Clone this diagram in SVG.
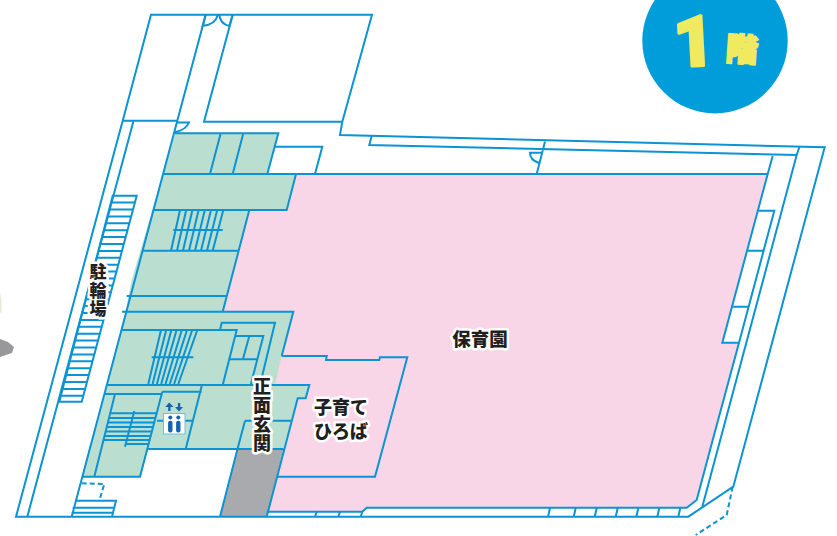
<svg xmlns="http://www.w3.org/2000/svg" width="837" height="536" viewBox="0 0 837 536">
<style>
.l{fill:none;stroke:#0b93d3;stroke-width:2;stroke-linejoin:miter}
.t{font-family:"Noto Sans CJK JP","Noto Sans",sans-serif;font-weight:900;fill:#231f20;stroke:#fff;stroke-width:5;stroke-linejoin:round;paint-order:stroke;text-anchor:middle}
.v{writing-mode:vertical-rl}
.y{fill:#f0ea60;stroke:#f0ea60;stroke-linejoin:round;text-anchor:middle;font-weight:900}
.d{stroke-dasharray:5 3}
</style>
<rect width="837" height="536" fill="#fff"/>
<g id="photo-edge">
<path d="M0 339L8 342L14 347L12 353L0 357Z" fill="#98989a"/>
<path d="M0 293L1.500 300L1.500 312L0 313Z" fill="#ece7d6"/>
</g>
<g id="badge">
<circle cx="715" cy="40.700" r="72.700" fill="#009ddb"/>
<text class="y" x="694" y="66" font-family="Roboto,sans-serif" font-size="70" stroke-width="3" transform="rotate(-3 695 40)">1</text>
<text class="y" x="742" y="61" font-family="Noto Sans CJK JP,sans-serif" font-size="32" stroke-width="2" transform="rotate(4 742 48)">階</text>
</g>
<g id="rooms">
<path d="M296 174H767.700L758.300 210.700L722.300 342.700H739L712.700 440L696.700 500L686.700 507.700H366.700L362.300 511.700H266.700L266.700 516.700L283.300 450L297.700 398.300H305.700L309.300 385H260L293.300 311.700L281.700 356L222.700 311.700L249.300 210H286.700Z" fill="#f9d5e8"/>
<path d="M175 133.300H278.300L267.300 174H296L286.700 210H249.300L238.300 250.700L222.700 311.700H293.300L281.700 356L275 385H309.300L305.700 398.300H297.700L283.300 449H148.300L140 476.700H82.700L122 330L131.700 280Z" fill="#badfd1"/>
<path d="M237.300 449.700H283.300L266.700 516.700H220Z" fill="#a9aaad"/>
<path d="M283.300 355.700H326.700L326 360H379.300L380 357.300H407.300L375 476.700H277.300L297.700 398.300H305.700L309.300 385H275Z" fill="#f9d5e8"/>
</g>
<g id="connectors">
<path class="l" d="M122.700 120.700L151 14.700H372L342.300 121.700L340 135L824.700 147.300L733.300 486.700L688.300 516.700H16L122.700 120.700H177.300L205.700 14.700M133.300 121.700L27.300 516.700M232.700 14.700L204 121.700H342.300"/>
<path class="l" d="M177.300 120.700L71.700 516.700M371.700 136L369.300 145L796.700 155L702.300 506.700M799.300 147.300L796.700 155M545 141.500L536.700 174"/>
<path class="l" d="M205.700 14.700L202.700 25.700Q215 25 218 14.700M232.700 14.700L229.300 26Q220 24 219.300 14.700M176.500 122.500H189Q186 130 174.500 132.300M541.700 152.700H530Q530 160 539 163"/>
<path class="l" d="M296 174H767.700L772.700 156M767.700 174L722.300 342.700H739M758.300 210.700H774.300L739 342.700L712.700 440L696.700 500L686.700 507.700H366.700L362.300 511.700H266.700M747.700 250.700H763.300M732.700 306.700H748.300"/>
<path class="l" d="M175 133.300H278.300L267.300 174M275 146.700H322.300L315 174M220.700 133.300L210 174M243.300 133.300L232.700 174M163.300 174H296L286.700 210H153.300M249.300 210L222.700 311.700M142.700 250.700H238.300M126.700 296H226M122 311.700H293.300L281.700 356"/>
<path class="l" d="M122 330H236.700L222.700 385M220 330L221.700 322.700H275L260 385M235 336H263.300L250.700 385M249.300 336L242.700 360M228.300 359.300H257.300"/>
<path class="l" d="M106.700 385H309.300L305.700 398.300H297.700L266.700 516.700M281.700 356H326.700L326 360H379.300L380 357.300H407.300L375 476.700H277.300M105 394H161.700M162.300 391.700H201.700M201.700 386L185.700 449M162.300 391.700L140 476.700H82.700M115 394L94.300 476.700M148.300 449H283.300M245 420.700H291.700M245 420.700L237.300 449.700L220 516.700"/>
<path class="l" d="M316.700 511.700L315 516.700M340 511.700L338.300 516.700M362.300 511.700L360.700 516.700M550 508L548 516.700M575.700 508L573.700 516.700M596.700 508L594.700 516.700M617.700 508L615.700 516.700M638.300 508L636.300 516.700M659.300 508L657.300 516.700M680.300 508L678.300 516.700"/>
<path class="l d" d="M732.700 486.700L726.700 515L695.700 535M81.700 483.300L104.300 484L99.300 500.700"/>
<path class="l" d="M75 500.700H116L112 516.700M72.700 507.700H114M71.700 512.700H113"/>
<path class="l" d="M180 210L171 250.700M186.200 210L177 250.700M192.400 210L183 250.700M198.600 210L189 250.700M204.800 210L195 250.700M211 210L201 250.700M217.200 210L207 250.700M223.300 210L212.700 250.700M173.300 230H222.700"/>
<path class="l" d="M161 330L148.300 384M166.200 330L152.600 384M171.400 330L156.900 384M176.600 330L161.200 384M181.800 330L165.500 384M187 330L169.800 384M192.200 330L174.100 384M197.300 330L178.300 384M151.700 357.300H193.300"/>
<path class="l" d="M110 413.300H156.700M108.800 418H155.500M107.600 422.500H154.300M106.400 427H153M105.200 431.500H151.800M104 436H150.600M104 440H149.300M126 444H148.300M134.300 411L125 446.700M157 420.700H192.700"/>
<path class="l" d="M112.700 195.700H136.700L81.700 401.700H59.300L112.700 195.700Z"/>
<path class="l" d="M111 202.600H134.900M109 209.500H133M107 216.400H131.200M105.500 223.300H129.300M103.600 230.200H127.500M101.800 237.100H125.700M100 244H123.800M98 250.900H122M96 257.800H120M94.500 264.700H118.300M92.700 271.600H116.500M90.800 278.500H114.600M89 285.400H112.800M87 292.300H111M85.300 299.200H109M83.500 306.100H107.300M81.700 313H105.500M79.800 319.900H103.600M78 326.800H101.800M76 333.700H100M74.300 340.600H98M72.500 347.500H96.300M70.600 354.400H94.400M68.800 361.300H92.600M67 368.200H90.800M65 375.100H89M63.300 382H87M61.500 388.900H85.300M59.600 395.800H83.500"/>
</g>
<g id="elevator">
<rect x="163.500" y="413.500" width="21.500" height="20.500" fill="#fff" stroke="#6cbde3" stroke-width="1"/>
<g fill="#1763ad">
<path d="M169.300 402.500L173.500 407H170.500V411H168.200V407H165.200Z"/>
<path d="M179 411.500L175 407H177.900V403H180.200V407H183Z"/>
<circle cx="170.300" cy="417.500" r="2"/>
<circle cx="178.300" cy="417.500" r="2"/>
<rect x="168.100" y="420.700" width="4.400" height="11.800" rx="2"/>
<rect x="176.100" y="420.700" width="4.400" height="11.800" rx="2"/>
</g>
</g>
<g id="labels">
<text class="t" x="480" y="345.500" font-size="18.500">保育園</text>
<text class="t" x="341" y="414" font-size="18">子育て</text>
<text class="t" x="341" y="438" font-size="18">ひろば</text>
<text class="t v" x="262" y="415" font-size="18" letter-spacing="0.700">正面玄関</text>
<text class="t v" x="98" y="291" font-size="17" letter-spacing="1.500">駐輪場</text>
</g>
</svg>
